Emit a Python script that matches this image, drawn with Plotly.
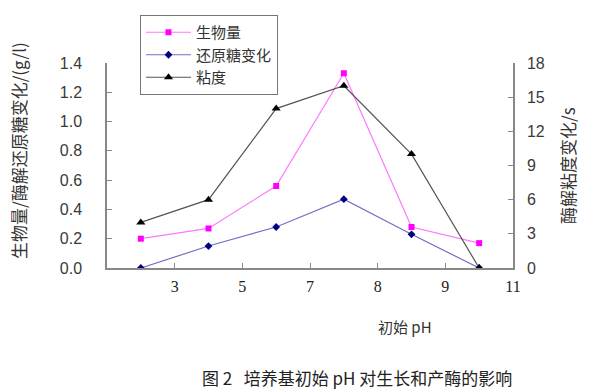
import plotly.graph_objects as go

ph_labels = ["3", "5", "7", "8", "9", "11"]
biomass = [0.20, 0.27, 0.56, 1.33, 0.28, 0.17]
sugar = [0.00, 0.15, 0.28, 0.47, 0.23, 0.00]
viscosity = [4, 6, 14, 16, 10, 0]

n = len(biomass)
xpos = [i + 0.5 for i in range(n)]
tickpos = [i + 1 for i in range(n)]

fig = go.Figure()
fig.add_trace(go.Scatter(x=xpos, y=biomass, name="生物量", mode="lines+markers",
                         line=dict(color="#FF77FF", width=1.2),
                         marker=dict(symbol="square", size=6, color="#FF00FF")))
fig.add_trace(go.Scatter(x=xpos, y=sugar, name="还原糖变化", mode="lines+markers",
                         line=dict(color="#7070C8", width=1.2),
                         marker=dict(symbol="diamond", size=6, color="#000080")))
fig.add_trace(go.Scatter(x=xpos, y=viscosity, name="粘度", mode="lines+markers", yaxis="y2",
                         line=dict(color="#555555", width=1.2),
                         marker=dict(symbol="triangle-up", size=8, color="#000000")))

L, R, T, B = 107, 513, 63, 268
PW, PH = R - L, B - T

def px(xp):
    return (xp - L) / PW

def py(yp):
    return (B - yp) / PH

axis_col = "#888888"
fig.update_layout(
    width=598, height=391,
    margin=dict(l=L, r=598 - R, t=T, b=391 - B, autoexpand=False),
    paper_bgcolor="white", plot_bgcolor="white",
    font=dict(family="Liberation Sans, Arial, sans-serif", color="#333333"),
    xaxis=dict(range=[0, n], tickvals=tickpos, ticktext=ph_labels, showgrid=False,
               zeroline=False, showline=True, linecolor=axis_col, linewidth=1.5,
               ticks="inside", ticklen=5, tickcolor=axis_col, ticklabelstandoff=3,
               tickfont=dict(family="Liberation Serif, Times New Roman, serif", size=16, color="#222222")),
    yaxis=dict(range=[0, 1.4], dtick=0.2, tickformat=".1f", showgrid=False, zeroline=False,
               showline=True, linecolor=axis_col, linewidth=1.5, ticks="inside", ticklen=5,
               tickcolor=axis_col, ticklabelstandoff=20,
               tickfont=dict(size=16, color="#3a3a3a")),
    yaxis2=dict(range=[0, 18], dtick=3, overlaying="y", side="right", showgrid=False,
                zeroline=False, showline=True, linecolor=axis_col, linewidth=1.5,
                ticks="inside", ticklen=5, tickcolor=axis_col, ticklabelstandoff=9,
                tickfont=dict(size=16, color="#3a3a3a")),
    legend=dict(x=px(140), y=py(15), xanchor="left", yanchor="top",
                bordercolor="#777777", borderwidth=1, bgcolor="white",
                font=dict(family="Noto Sans CJK SC", size=15, color="#333333"),
                tracegroupgap=0, itemwidth=45),
    showlegend=True,
)

fig.add_annotation(text="生物量/酶解还原糖变化/(g/l)", xref="paper", yref="paper",
                   x=px(18), y=py(151), textangle=-90, showarrow=False,
                   xanchor="center", yanchor="middle",
                   font=dict(family="Noto Sans CJK SC", size=17, color="#333333"))
fig.add_annotation(text="酶解粘度变化/s", xref="paper", yref="paper",
                   x=px(567), y=py(166), textangle=-90, showarrow=False,
                   xanchor="center", yanchor="middle",
                   font=dict(family="Noto Sans CJK SC", size=17, color="#333333"))
fig.add_annotation(text="初始 pH", xref="paper", yref="paper",
                   x=px(405), y=py(326), showarrow=False, xanchor="center", yanchor="middle",
                   font=dict(family="Noto Sans CJK SC", size=15, color="#333333"))
fig.add_annotation(text="图 2   培养基初始 pH 对生长和产酶的影响", xref="paper", yref="paper",
                   x=px(357), y=py(377), showarrow=False, xanchor="center", yanchor="middle",
                   font=dict(family="Noto Sans CJK SC", size=17, color="#222222"))

fig.write_html("out.html")
